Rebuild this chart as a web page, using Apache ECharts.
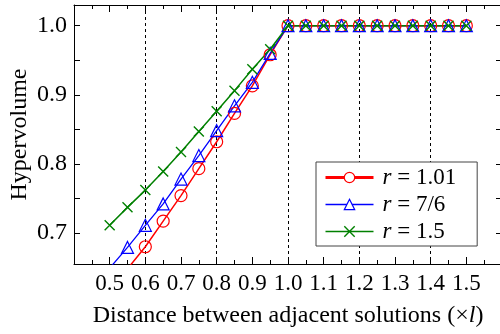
<!DOCTYPE html>
<html>
<head>
<meta charset="utf-8">
<script src="https://cdn.jsdelivr.net/npm/echarts@6/dist/echarts.min.js"></script>
<style>
  html, body { margin: 0; padding: 0; background: #fff; }
  #chart { width: 500px; height: 334px; }
</style>
</head>
<body>
<div id="chart"></div>
<script>
const distances = [0.5, 0.55, 0.6, 0.65, 0.7, 0.75, 0.8, 0.85, 0.9, 0.95, 1.0,
  1.05, 1.1, 1.15, 1.2, 1.25, 1.3, 1.35, 1.4, 1.45, 1.5]
const hvR101 = [null, 0.648, 0.680, 0.717, 0.754, 0.793, 0.832, 0.873, 0.913, 0.958, 1.0,
  1.0, 1.0, 1.0, 1.0, 1.0, 1.0, 1.0, 1.0, 1.0, 1.0]
const hvR76 = [0.649, 0.679, 0.711, 0.742, 0.778, 0.812, 0.848, 0.884, 0.918, 0.960, 1.0,
  1.0, 1.0, 1.0, 1.0, 1.0, 1.0, 1.0, 1.0, 1.0, 1.0]
const hvR15 = [0.711, 0.737, 0.762, 0.789, 0.817, 0.847, 0.876, 0.906, 0.937, 0.966, 1.0,
  1.0, 1.0, 1.0, 1.0, 1.0, 1.0, 1.0, 1.0, 1.0, 1.0]
const seriesNames = ['1.01', '7/6', '1.5']
const yTicks = [0.7, 0.75, 0.8, 0.85, 0.9, 0.95, 1.0]
const yLabels = [0.7, 0.8, 0.9, 1.0]

const font = 'Liberation Serif'
const pairs = vals => distances.map((d, i) => [d, vals[i]])
const crossPath = 'path://M0,0L10,10M10,0L0,10'

const chart = echarts.init(document.getElementById('chart'), null, { renderer: 'canvas' })

const xCommon = {
  type: 'value',
  min: 0.4,
  max: 1.6,
  interval: 0.1,
  axisLine: { show: true, lineStyle: { color: '#000', width: 1 } },
  axisTick: { show: true, inside: true, length: 7, lineStyle: { color: '#000' } },
  minorTick: { show: true, splitNumber: 2, length: 4, lineStyle: { color: '#000' } },
  splitLine: { show: false }
}

const option = {
  animation: false,
  backgroundColor: '#fff',
  textStyle: { fontFamily: font },
  grid: { left: 74, top: 5, right: -2, bottom: 70, outerBoundsMode: 'none' },
  xAxis: [
    Object.assign({}, xCommon, {
      position: 'bottom',
      name: '{n|Distance between adjacent solutions (×}{i|l}{n|)}',
      nameLocation: 'middle',
      nameGap: 40,
      nameMoveOverlap: false,
      nameTextStyle: {
        rich: {
          n: { fontFamily: font, fontSize: 24, color: '#000' },
          i: { fontFamily: font, fontSize: 24, fontStyle: 'italic', color: '#000' }
        }
      },
      axisLabel: {
        margin: 8,
        fontFamily: font,
        fontSize: 23,
        color: '#000',
        formatter: v => (v < 0.45 || v > 1.55) ? '' : v.toFixed(1)
      }
    }),
    Object.assign({}, xCommon, {
      position: 'top',
      axisLabel: { show: false }
    }),
    {
      type: 'value',
      min: 0.4,
      max: 1.6,
      interval: 0.2,
      position: 'bottom',
      axisLine: { show: false },
      axisTick: { show: false },
      axisLabel: { show: false },
      splitLine: { show: true, lineStyle: { color: '#000', width: 1, type: [3, 3] } }
    }
  ],
  yAxis: [
    {
      type: 'value',
      position: 'left',
      min: 0.655,
      max: 1.03,
      name: 'Hypervolume',
      nameLocation: 'middle',
      nameGap: 42,
      nameMoveOverlap: false,
      nameTextStyle: { fontFamily: font, fontSize: 24, color: '#000' },
      axisLine: { show: true, lineStyle: { color: '#000', width: 1 } },
      axisTick: { show: true, inside: true, length: 6, customValues: yTicks, lineStyle: { color: '#000' } },
      axisLabel: {
        margin: 7,
        fontFamily: font,
        fontSize: 24,
        color: '#000',
        customValues: yLabels,
        formatter: v => v.toFixed(1)
      },
      splitLine: { show: false }
    },
    {
      type: 'value',
      position: 'right',
      min: 0.655,
      max: 1.03,
      axisLine: { show: true, lineStyle: { color: '#000', width: 1 } },
      axisTick: { show: true, inside: true, length: 6, customValues: yTicks, lineStyle: { color: '#000' } },
      axisLabel: { show: false },
      splitLine: { show: false }
    }
  ],
  legend: {
    orient: 'vertical',
    left: 316,
    top: 162,
    padding: [4, 21, 3, 8],
    itemWidth: 48,
    itemHeight: 13,
    itemGap: 4,
    backgroundColor: '#fff',
    borderColor: '#444',
    borderWidth: 1,
    borderRadius: 0,
    formatter: name => '{i|r}{n| = ' + name + '}',
    textStyle: {
      rich: {
        i: { fontFamily: font, fontSize: 23, lineHeight: 21, fontStyle: 'italic', color: '#000', padding: [0, 0, 0, 4] },
        n: { fontFamily: font, fontSize: 23, lineHeight: 21, color: '#000' }
      }
    },
    data: [
      { name: seriesNames[0], itemStyle: { color: '#fff', borderColor: '#ff0000', borderWidth: 1.2 }, lineStyle: { width: 3 } },
      { name: seriesNames[1], itemStyle: { color: '#fff', borderColor: '#0000ff', borderWidth: 1.2 }, lineStyle: { width: 1.3 } },
      { name: seriesNames[2], itemStyle: { color: '#fff', borderColor: '#008000', borderWidth: 1.4 }, lineStyle: { width: 1.5 } }
    ]
  },
  series: [
    {
      name: seriesNames[0],
      type: 'line',
      xAxisIndex: 0,
      yAxisIndex: 0,
      data: pairs(hvR101),
      symbol: 'circle',
      symbolSize: 12,
      lineStyle: { color: '#ff0000', width: 1.5 },
      itemStyle: { color: 'rgba(0,0,0,0)', borderColor: '#ff0000', borderWidth: 1.2 }
    },
    {
      name: seriesNames[1],
      type: 'line',
      xAxisIndex: 0,
      yAxisIndex: 0,
      data: pairs(hvR76),
      symbol: 'triangle',
      symbolSize: 12,
      lineStyle: { color: '#0000ff', width: 1.3 },
      itemStyle: { color: 'rgba(0,0,0,0)', borderColor: '#0000ff', borderWidth: 1.2 }
    },
    {
      name: seriesNames[2],
      type: 'line',
      xAxisIndex: 0,
      yAxisIndex: 0,
      data: pairs(hvR15),
      symbol: crossPath,
      symbolSize: 10,
      lineStyle: { color: '#008000', width: 1.5 },
      itemStyle: { color: 'rgba(0,0,0,0)', borderColor: '#008000', borderWidth: 1.4 }
    }
  ]
}

chart.setOption(option)
</script>
</body>
</html>
